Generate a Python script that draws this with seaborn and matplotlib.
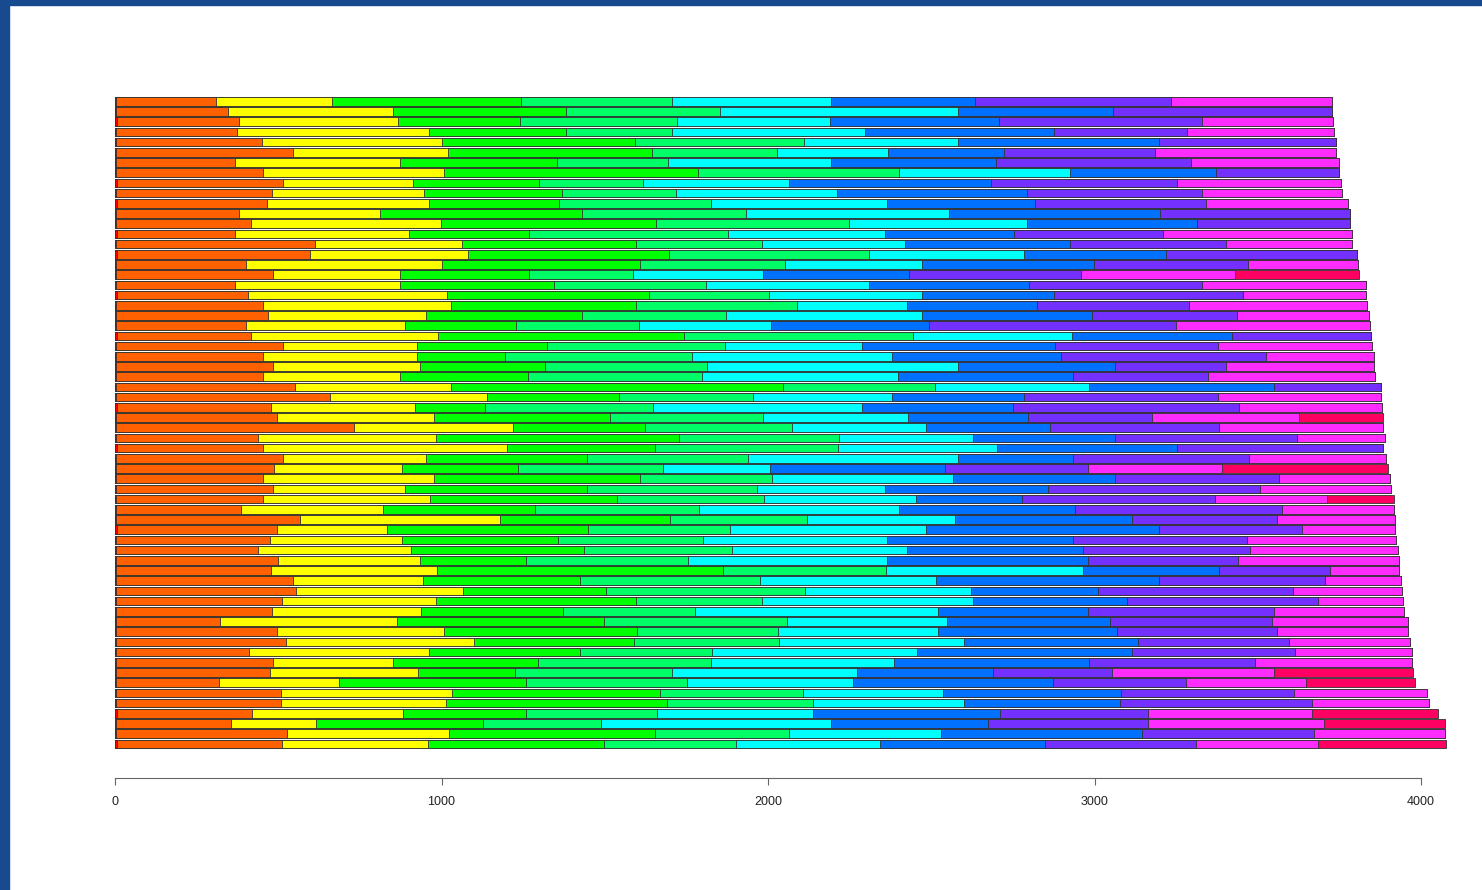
import numpy as np
import pandas as pd
import matplotlib
matplotlib.use("Agg")
import matplotlib.pyplot as plt
from matplotlib.patches import Rectangle
import seaborn as sns

sns.set_style("white")
plt.rcParams["font.family"] = ["Liberation Sans", "DejaVu Sans"]

# One horizontal bar per row (top to bottom); each series is one coloured segment.
rows = [str(i + 1) for i in range(64)]

red = [4, 3, 6, 4, 3, 3, 3, 3, 6, 3, 6, 3, 3, 6, 3, 6, 3, 3, 3, 6, 3, 3, 3, 6, 3, 3, 3, 3, 3, 3, 6, 3,
       3, 3, 6, 3, 3, 3, 3, 3, 3, 3, 6, 3, 3, 3, 3, 3, 3, 3, 3, 3, 3, 3, 3, 3, 3, 3, 3, 3, 6, 3, 3, 6]
orange = [305, 343, 374, 370, 447, 542, 365, 450, 509, 478, 460, 377, 414, 362, 610, 591,
          398, 481, 365, 401, 450, 466, 398, 411, 512, 450, 481, 450, 548, 656, 472, 493,
          729, 435, 447, 512, 484, 450, 481, 450, 383, 564, 490, 472, 435, 496, 475, 542,
          551, 509, 478, 319, 493, 521, 407, 481, 472, 316, 505, 505, 414, 352, 524, 506]
yellow = [355, 505, 487, 588, 551, 475, 505, 554, 398, 466, 496, 432, 582, 533, 450, 484,
          600, 389, 505, 610, 576, 484, 487, 573, 410, 472, 450, 420, 478, 481, 441, 481,
          487, 545, 747, 438, 392, 524, 404, 512, 435, 613, 337, 404, 469, 435, 508, 398,
          512, 472, 456, 542, 512, 576, 551, 368, 453, 368, 524, 505, 463, 260, 496, 447]
green = [579, 530, 374, 420, 591, 625, 481, 778, 386, 423, 398, 619, 659, 368, 533, 616,
         606, 395, 472, 619, 567, 478, 340, 753, 398, 270, 383, 392, 1017, 404, 214, 539,
         404, 744, 453, 493, 355, 631, 557, 573, 466, 521, 616, 478, 530, 325, 876, 481,
         438, 613, 435, 634, 591, 490, 463, 444, 297, 573, 637, 677, 377, 512, 631, 539]
spring = [463, 472, 481, 325, 518, 383, 340, 616, 319, 349, 466, 502, 591, 610, 386, 613,
          444, 319, 466, 368, 493, 441, 377, 701, 545, 573, 496, 533, 466, 410, 515, 469,
          450, 490, 560, 493, 444, 404, 521, 450, 502, 417, 435, 444, 453, 496, 499, 551,
          610, 386, 404, 560, 432, 444, 404, 530, 481, 493, 438, 447, 401, 361, 410, 404]
cyan = [487, 729, 469, 591, 472, 340, 499, 524, 447, 493, 539, 622, 545, 478, 438, 475,
        420, 398, 499, 469, 337, 600, 404, 487, 420, 613, 769, 600, 472, 426, 640, 444,
        410, 410, 487, 643, 328, 554, 392, 466, 613, 456, 600, 564, 536, 610, 603, 539,
        508, 646, 744, 490, 490, 567, 628, 560, 567, 508, 429, 463, 478, 704, 466, 441]
azure = [441, 475, 515, 579, 616, 355, 505, 447, 619, 582, 453, 646, 521, 395, 505, 435,
         527, 447, 490, 404, 398, 521, 484, 490, 591, 515, 481, 536, 567, 404, 463, 368,
         380, 435, 554, 352, 536, 496, 499, 325, 539, 542, 714, 570, 539, 616, 417, 683,
         389, 472, 459, 499, 548, 533, 659, 597, 417, 613, 545, 478, 573, 481, 616, 505]
violet = [600, 671, 622, 407, 542, 463, 597, 377, 570, 536, 524, 582, 469, 459, 478, 585,
          472, 527, 530, 579, 466, 444, 757, 426, 499, 628, 340, 413, 328, 594, 692, 380,
          518, 557, 631, 539, 438, 502, 649, 591, 634, 444, 438, 533, 512, 459, 340, 508,
          597, 585, 570, 496, 490, 463, 499, 508, 364, 407, 530, 588, 453, 490, 527, 463]
magenta = [493, 0, 404, 450, 0, 554, 453, 0, 502, 429, 435, 0, 0, 579, 386, 0,
           337, 472, 502, 377, 545, 404, 594, 0, 472, 331, 453, 512, 0, 499, 438, 450,
           502, 270, 0, 420, 410, 340, 401, 343, 343, 361, 285, 456, 453, 493, 211, 233,
           334, 260, 398, 417, 401, 368, 358, 481, 496, 368, 407, 358, 502, 539, 401, 374]
rose = [0, 0, 0, 0, 0, 0, 0, 0, 0, 0, 0, 0, 0, 0, 0, 0,
        0, 380, 0, 0, 0, 0, 0, 0, 0, 0, 0, 0, 0, 0, 0, 257,
        0, 0, 0, 0, 508, 0, 0, 205, 0, 0, 0, 0, 0, 0, 0, 0,
        0, 0, 0, 0, 0, 0, 0, 0, 426, 334, 0, 0, 386, 371, 0, 392]

x_ticks = [0, 1000, 2000, 3000, 4000]

series = [red, orange, yellow, green, spring, cyan, azure, violet, magenta, rose]
colors = ["#FF0000", "#FF6000", "#FFFF00", "#00FF00", "#00FF66", "#00FFFF",
          "#0070FF", "#7330FF", "#FF2CFF", "#FF0062"]

df = pd.DataFrame(np.array(series).T, index=rows)
cum = df.cumsum(axis=1)

W, H = 1482, 890
fig = plt.figure(figsize=(W / 100, H / 100), dpi=100)

# axes geometry in pixels
left_px, zero_to_4000_px = 115, 1306
xmax = 4100
top_px, bottom_px = 90, 778
row0_px, pitch_px = 101.3, 10.2

ax = fig.add_axes([left_px / W, (H - bottom_px) / H,
                   xmax * zero_to_4000_px / 4000 / W, (bottom_px - top_px) / H])

# stacked bars: draw cumulative totals from the longest down, each covering the next
for k in range(len(series) - 1, -1, -1):
    sns.barplot(x=cum[k].values, y=rows, order=rows, orient="y", ax=ax,
                color=colors[k], saturation=1, errorbar=None, width=0.83,
                edgecolor="#333333", linewidth=0.6)

ax.set_xlim(0, xmax)
ax.set_ylim((bottom_px - row0_px) / pitch_px, (top_px - row0_px) / pitch_px)
ax.set_xlabel("")
ax.set_ylabel("")
ax.set_yticks([])
ax.set_xticks(x_ticks)
ax.set_xticklabels([str(t) for t in x_ticks], fontsize=9, color="#222222")
ax.tick_params(axis="x", length=5, width=0.8, color="#666666", pad=8, bottom=True)
for s in ["top", "right", "left"]:
    ax.spines[s].set_visible(False)
ax.spines["bottom"].set_bounds(0, 4000)
ax.spines["bottom"].set_color("#666666")
ax.spines["bottom"].set_linewidth(0.8)
ax.patch.set_alpha(0)

# window frame strips on the left and top edges
fig.patches.append(Rectangle((0, 0), 8.7 / W, 1, transform=fig.transFigure,
                             color="#184A8F", zorder=10))
fig.patches.append(Rectangle((0, 1 - 5 / H), 1, 5 / H, transform=fig.transFigure,
                             color="#184A8F", zorder=10))

fig.savefig("out.png", dpi=100, facecolor="white")
